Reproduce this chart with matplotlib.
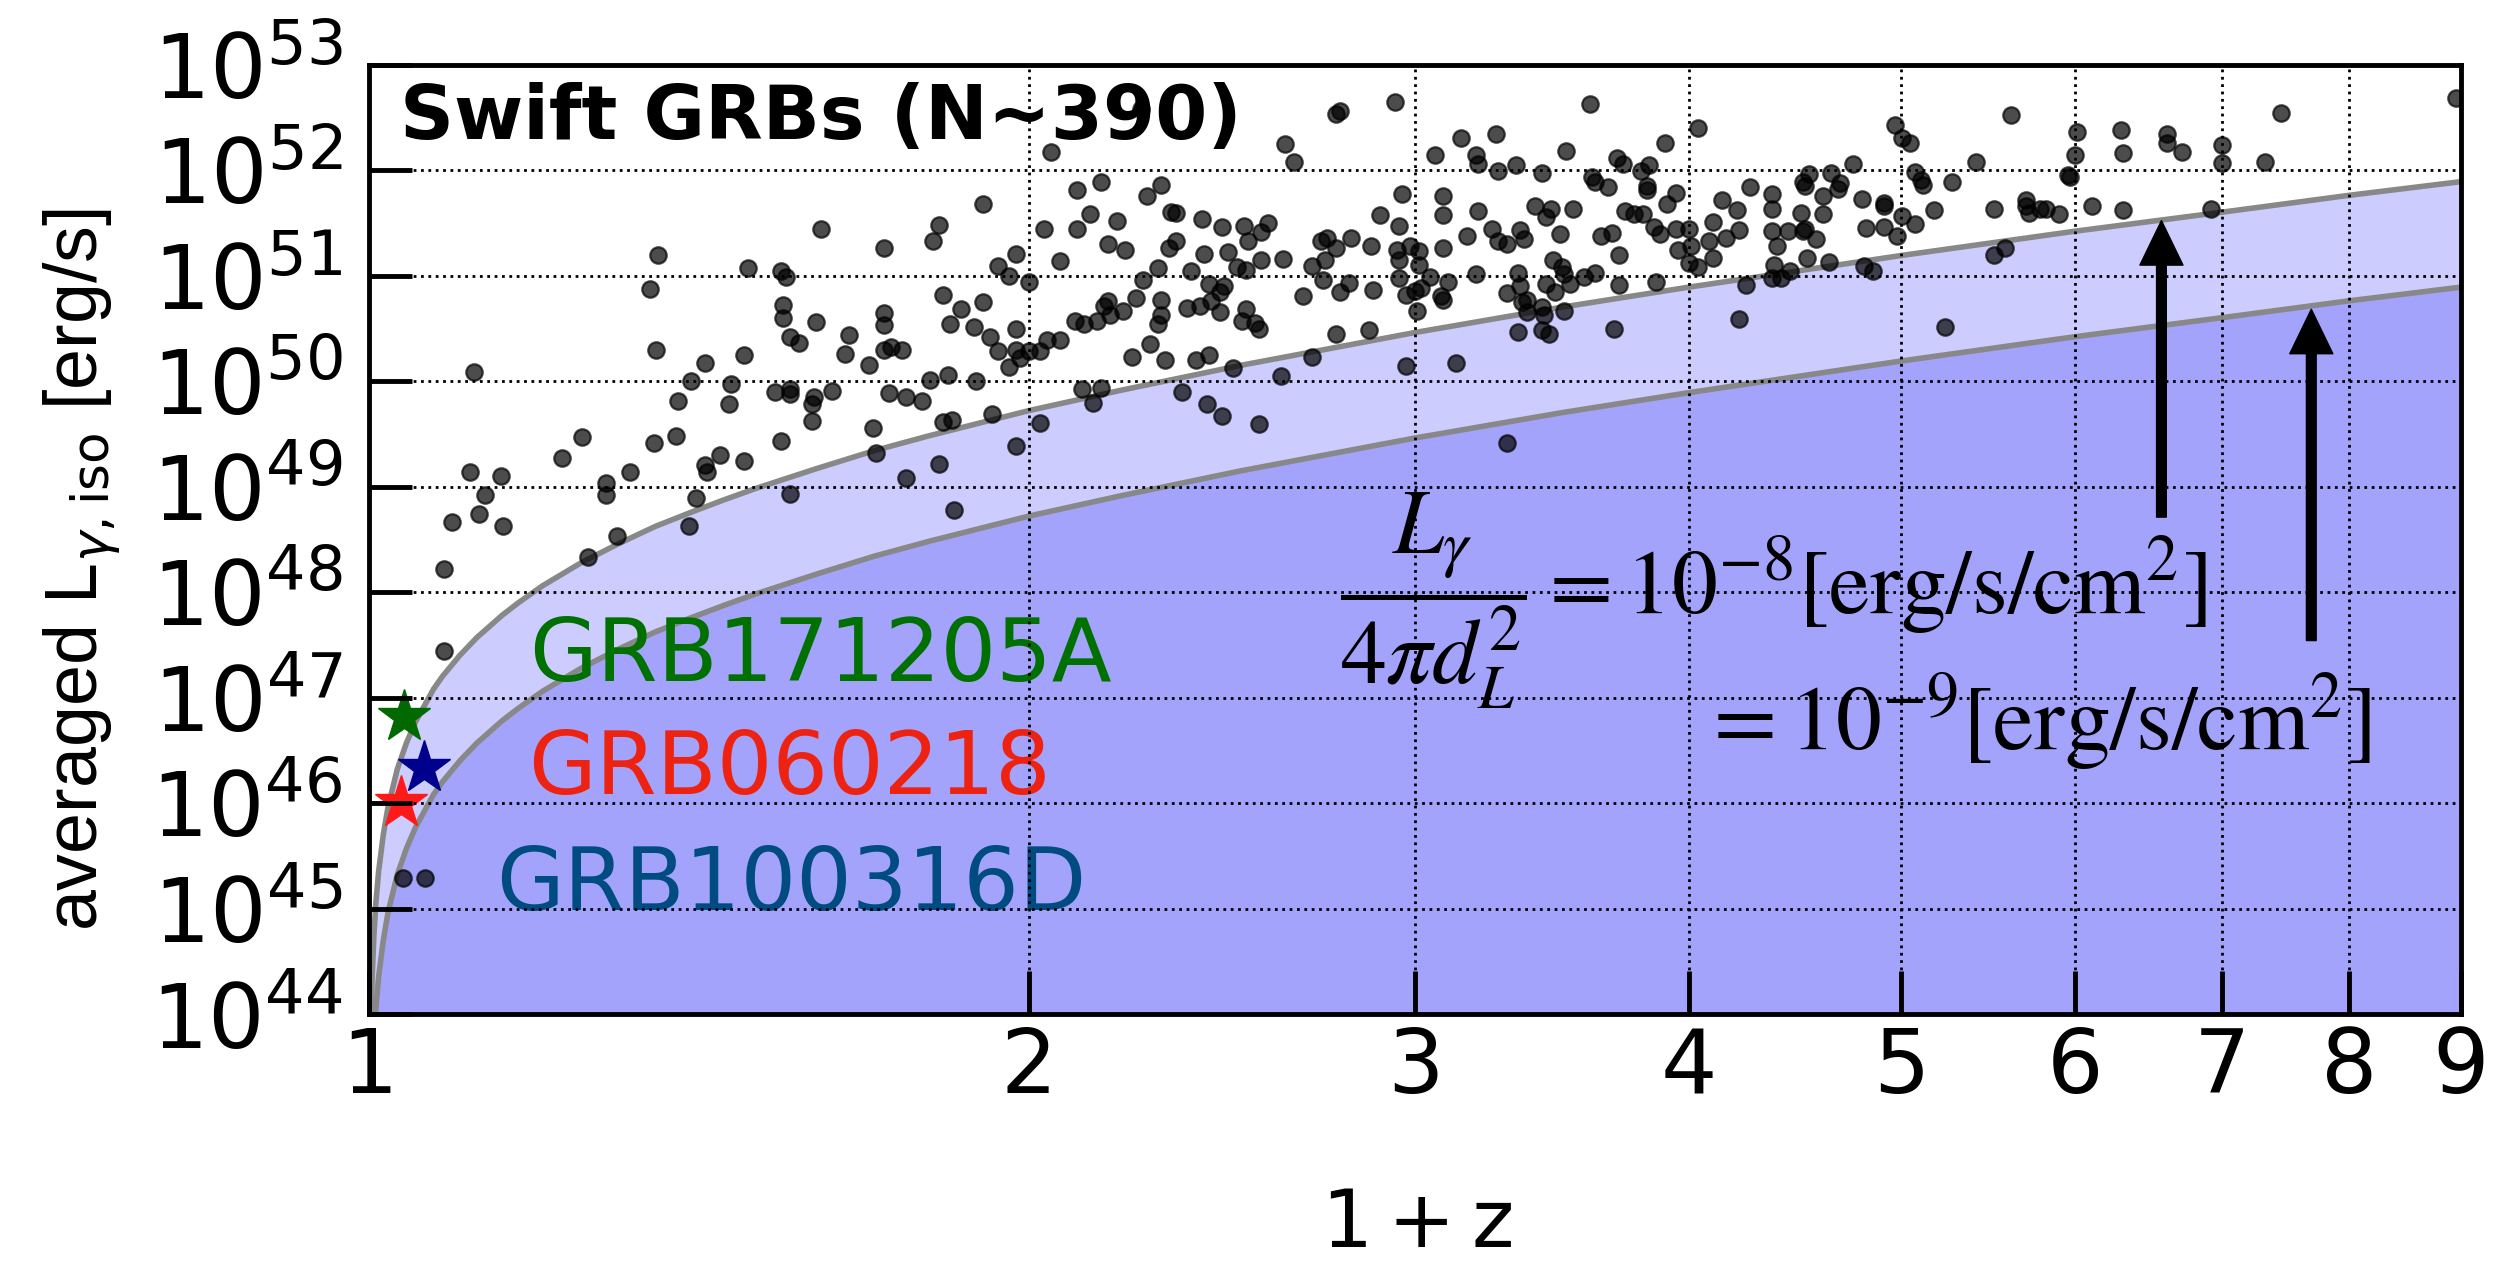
import numpy as np
import matplotlib.pyplot as plt
from matplotlib.ticker import FixedLocator, NullLocator, LogLocator

# Swift GRBs: (log10(1+z), log10 L[erg/s])
grb_low_z = [
    (0.311, 52.17), (0.280, 51.68), (0.206, 51.44), (0.260, 51.48), (0.257, 51.33),
    (0.235, 51.26), (0.308, 51.44), (0.132, 51.19), (0.295, 51.20), (0.315, 51.14),
    (0.287, 51.09), (0.173, 51.07), (0.188, 51.04), (0.190, 50.99), (0.292, 51.00),
    (0.301, 50.94), (0.128, 50.87), (0.262, 50.82), (0.189, 50.72), (0.280, 50.75),
    (0.270, 50.68), (0.189, 50.60), (0.235, 50.64), (0.204, 50.56), (0.235, 50.53),
    (0.265, 50.54), (0.276, 50.51), (0.295, 50.49), (0.192, 50.42), (0.219, 50.44),
    (0.196, 50.36), (0.283, 50.42), (0.309, 50.39), (0.315, 50.39), (0.131, 50.29),
    (0.171, 50.25), (0.235, 50.29), (0.238, 50.32), (0.243, 50.29), (0.217, 50.26),
    (0.287, 50.28), (0.295, 50.29), (0.301, 50.28), (0.306, 50.28), (0.297, 50.22),
    (0.153, 50.17), (0.228, 50.15), (0.292, 50.13), (0.048, 50.09), (0.147, 50.00),
    (0.165, 49.97), (0.264, 50.06), (0.256, 50.01), (0.277, 50.00),
    (0.185, 49.90), (0.192, 49.88), (0.192, 49.92), (0.203, 49.85), (0.211, 49.91),
    (0.202, 49.78), (0.202, 49.62), (0.237, 49.89), (0.245, 49.85), (0.252, 49.81),
    (0.141, 49.81), (0.164, 49.78), (0.097, 49.47), (0.130, 49.41), (0.140, 49.48),
    (0.188, 49.43), (0.230, 49.55), (0.262, 49.61), (0.266, 49.63), (0.284, 49.69),
    (0.306, 49.60), (0.295, 49.38), (0.231, 49.32), (0.260, 49.21), (0.245, 49.08),
    (0.088, 49.27), (0.046, 49.14), (0.060, 49.10), (0.119, 49.14), (0.153, 49.20),
    (0.154, 49.14), (0.160, 49.30), (0.171, 49.24), (0.108, 49.03), (0.108, 48.92),
    (0.053, 48.92), (0.149, 48.89), (0.192, 48.93), (0.267, 48.78), (0.038, 48.66),
    (0.050, 48.74), (0.061, 48.63), (0.146, 48.63), (0.113, 48.53), (0.034, 48.22),
    (0.100, 48.33), (0.034, 47.44), (0.0155, 45.29), (0.0255, 45.29),
]

grb_mid_z = [
    (0.352, 52.58), (0.441, 52.53), (0.443, 52.56), (0.468, 52.64), (0.557, 52.63),
    (0.606, 52.40), (0.418, 52.25), (0.422, 52.08), (0.486, 52.14), (0.498, 52.30),
    (0.514, 52.34), (0.505, 52.14), (0.506, 52.06), (0.546, 52.18), (0.591, 52.26),
    (0.515, 51.99), (0.523, 52.05), (0.535, 51.97), (0.569, 52.11), (0.572, 52.06),
    (0.558, 51.93), (0.559, 51.89), (0.565, 51.84), (0.580, 51.99), (0.584, 52.05),
    (0.583, 51.85), (0.583, 51.81), (0.596, 51.78), (0.592, 51.68), (0.630, 51.84),
    (0.617, 51.72), (0.624, 51.62), (0.323, 51.81), (0.334, 51.89), (0.355, 51.75),
    (0.361, 51.86), (0.471, 51.77), (0.490, 51.75), (0.490, 51.57), (0.506, 51.61),
    (0.532, 51.66), (0.539, 51.63), (0.537, 51.55), (0.549, 51.63), (0.573, 51.61),
    (0.577, 51.58), (0.581, 51.58), (0.329, 51.58), (0.341, 51.52), (0.323, 51.44),
    (0.366, 51.60), (0.368, 51.59), (0.380, 51.54), (0.389, 51.46), (0.399, 51.47),
    (0.410, 51.50), (0.407, 51.41), (0.401, 51.33), (0.461, 51.57), (0.470, 51.47),
    (0.337, 51.30), (0.345, 51.24), (0.365, 51.26), (0.368, 51.33), (0.381, 51.20),
    (0.392, 51.22), (0.434, 51.33), (0.437, 51.36), (0.448, 51.36), (0.457, 51.28),
    (0.441, 51.26), (0.436, 51.15), (0.430, 51.09), (0.417, 51.16), (0.407, 51.15),
    (0.396, 51.08), (0.400, 51.05), (0.469, 51.24), (0.475, 51.28), (0.479, 51.23),
    (0.490, 51.26), (0.501, 51.37), (0.512, 51.44), (0.515, 51.33), (0.519, 51.30),
    (0.525, 51.43), (0.527, 51.35), (0.543, 51.39), (0.562, 51.37), (0.567, 51.40),
    (0.570, 51.19), (0.586, 51.46), (0.589, 51.39), (0.596, 51.44), (0.602, 51.44),
    (0.597, 51.24), (0.603, 51.28), (0.602, 51.12), (0.606, 51.08), (0.613, 51.51),
    (0.611, 51.33), (0.619, 51.36), (0.625, 51.43), (0.613, 51.17), (0.540, 51.15),
    (0.544, 51.08), (0.554, 50.99), (0.559, 51.02), (0.570, 50.91), (0.587, 50.94),
    (0.628, 50.91), (0.625, 50.59), (0.568, 50.49), (0.524, 51.02), (0.525, 50.90),
    (0.519, 50.83), (0.537, 50.92), (0.541, 50.84), (0.545, 51.01), (0.548, 50.92),
    (0.526, 50.75), (0.528, 50.77), (0.535, 50.70), (0.528, 50.65), (0.536, 50.63),
    (0.545, 50.66), (0.524, 50.46), (0.535, 50.48), (0.538, 50.45), (0.505, 51.01),
    (0.492, 50.94), (0.484, 50.99), (0.480, 50.88), (0.477, 50.85), (0.473, 50.82),
    (0.470, 50.98), (0.478, 50.66), (0.489, 50.81), (0.490, 50.77), (0.479, 51.10),
    (0.470, 51.15), (0.458, 50.86), (0.443, 50.84), (0.447, 50.93), (0.435, 50.96),
    (0.426, 50.81), (0.441, 50.45), (0.456, 50.48), (0.430, 50.23), (0.473, 50.14),
    (0.496, 50.17), (0.416, 50.05), (0.394, 50.12), (0.383, 50.25), (0.377, 50.20),
    (0.363, 50.20), (0.348, 50.23), (0.356, 50.35), (0.360, 50.54), (0.361, 50.63),
    (0.361, 50.77), (0.350, 50.79), (0.344, 50.66), (0.338, 50.63), (0.337, 50.76),
    (0.335, 50.71), (0.322, 50.57), (0.326, 50.54), (0.332, 50.57), (0.373, 50.69),
    (0.379, 50.71), (0.384, 50.76), (0.388, 50.65), (0.390, 50.90), (0.388, 50.84),
    (0.383, 50.92), (0.375, 51.04), (0.360, 51.07), (0.353, 50.96), (0.400, 50.68),
    (0.398, 50.57), (0.404, 50.55), (0.406, 50.49), (0.371, 49.90), (0.325, 49.92),
    (0.334, 49.93), (0.330, 49.79), (0.382, 49.78), (0.389, 49.67), (0.406, 49.59),
    (0.519, 49.41),
]

grb_high_z = [
    (0.952, 52.68), (0.749, 52.52), (0.872, 52.54), (0.696, 52.43), (0.699, 52.30),
    (0.703, 52.26), (0.779, 52.36), (0.799, 52.38), (0.820, 52.34), (0.820, 52.26),
    (0.827, 52.17), (0.845, 52.24), (0.845, 52.07), (0.778, 52.14), (0.800, 52.16),
    (0.865, 52.08), (0.733, 52.08), (0.677, 52.06), (0.705, 51.98), (0.708, 51.91),
    (0.709, 51.86), (0.722, 51.89), (0.775, 51.95), (0.776, 51.93), (0.667, 51.97),
    (0.657, 51.96), (0.654, 51.89), (0.655, 51.85), (0.671, 51.88), (0.670, 51.82),
    (0.640, 51.77), (0.663, 51.75), (0.681, 51.73), (0.691, 51.69), (0.691, 51.66),
    (0.640, 51.63), (0.653, 51.59), (0.663, 51.58), (0.699, 51.56), (0.705, 51.49),
    (0.714, 51.62), (0.741, 51.63), (0.756, 51.72), (0.756, 51.66), (0.757, 51.59),
    (0.762, 51.63), (0.765, 51.63), (0.771, 51.58), (0.786, 51.66), (0.800, 51.62),
    (0.840, 51.63), (0.640, 51.42), (0.647, 51.42), (0.654, 51.42), (0.655, 51.44),
    (0.660, 51.35), (0.683, 51.45), (0.691, 51.46), (0.697, 51.37), (0.642, 51.28),
    (0.656, 51.17), (0.666, 51.13), (0.641, 51.10), (0.648, 51.04), (0.640, 50.98),
    (0.644, 50.98), (0.682, 51.09), (0.686, 51.04), (0.746, 51.26), (0.741, 51.19),
    (0.719, 50.51),
]

# nearby low-luminosity bursts
special_names = ['GRB171205A', 'GRB060218', 'GRB100316D']
special_opz = [1.037, 1.034, 1.059]
special_logl = [46.82, 46.00, 46.33]
star_colors = ['#006a00', '#ff1a1a', '#00008c']
label_colors = ['#007000', '#ee2211', '#004c80']

# detection limits L = 4 pi d_L^2 F
curve_opz = [1.002, 1.003, 1.005, 1.007, 1.01, 1.015, 1.02, 1.03, 1.04, 1.05, 1.07,
             1.08, 1.1, 1.12, 1.15, 1.17, 1.2, 1.25, 1.3, 1.35, 1.4, 1.45, 1.5, 1.6,
             1.7, 1.8, 2.0, 2.2, 2.5, 3.0, 3.5, 4.0, 5.0, 6.0, 7.0, 8.0, 9.0]
curve_logl_1e8 = [43.95, 44.30, 44.74, 45.04, 45.35, 45.70, 45.96, 46.32, 46.57, 46.77,
                  47.08, 47.20, 47.40, 47.57, 47.78, 47.90, 48.06, 48.28, 48.46, 48.62,
                  48.75, 48.87, 48.98, 49.17, 49.34, 49.48, 49.72, 49.91, 50.15, 50.46,
                  50.70, 50.89, 51.19, 51.42, 51.60, 51.76, 51.89]
curve_logl_1e9 = [42.95, 43.30, 43.74, 44.04, 44.35, 44.70, 44.96, 45.32, 45.57, 45.77,
                  46.08, 46.20, 46.40, 46.57, 46.78, 46.90, 47.06, 47.28, 47.46, 47.62,
                  47.75, 47.87, 47.98, 48.17, 48.34, 48.48, 48.72, 48.91, 49.15, 49.46,
                  49.70, 49.89, 50.19, 50.42, 50.60, 50.76, 50.89]

arrow_opz = [6.57, 7.69]
arrow_tip_logl = [51.52, 50.68]
arrow_tail_logl = [48.71, 47.54]

xticks = [1, 2, 3, 4, 5, 6, 7, 8, 9]

fig = plt.figure(figsize=(24.94, 12.65), dpi=100)
ax = fig.add_axes([0.148, 0.1984, 0.8388, 0.7506])
ax.set_xscale('log')
ax.set_yscale('log')

cx = np.array(curve_opz)
up = 10 ** np.array(curve_logl_1e8)
lo = 10 ** np.array(curve_logl_1e9)
ax.fill_between(cx, 1e40, lo, color='#a3a3fc', lw=0, zorder=0.5)
ax.fill_between(cx, lo, up, color='#ccccff', lw=0, zorder=0.5)
ax.plot(cx, up, color='#888888', lw=4, zorder=1.5, solid_joinstyle='round')
ax.plot(cx, lo, color='#888888', lw=4, zorder=1.5, solid_joinstyle='round')

pts = np.array(grb_low_z + grb_mid_z + grb_high_z)
ax.scatter(10 ** pts[:, 0], 10 ** pts[:, 1], s=140, c='k', alpha=0.7,
           linewidths=1.6, zorder=1.8)

for zz, ll, c in zip(special_opz, special_logl, star_colors):
    ax.plot(zz, 10 ** ll, marker='*', ms=40, color=c, mec=c, ls='none', zorder=2.2)

for zz, tip, tail in zip(arrow_opz, arrow_tip_logl, arrow_tail_logl):
    ax.annotate('', xy=(zz, 10 ** tip), xytext=(zz, 10 ** tail),
                arrowprops=dict(facecolor='k', edgecolor='k', width=7,
                                headwidth=31, headlength=32, shrink=0),
                zorder=2.2)

ax.set_xlim(1, 9)
ax.set_ylim(1e44, 1e53)

ax.text(0.0148, 0.922, 'Swift GRBs (N~390)', transform=ax.transAxes,
        fontsize=54, fontweight='bold', ha='left', va='baseline', zorder=2.2)
label_pos = [(0.0765, 0.351), (0.076, 0.232), (0.0607, 0.110)]
for name, c, (px, py) in zip(special_names, label_colors, label_pos):
    ax.text(px, py, name, color=c, transform=ax.transAxes, fontsize=63,
            ha='left', va='baseline', zorder=2.2)

ax.text(0.464, 0.421, r'$\dfrac{L_\gamma}{4\pi d_L^2}=10^{-8}[\mathrm{erg/s/cm^2}]$',
        transform=ax.transAxes, fontsize=66, math_fontfamily='stix',
        ha='left', va='baseline', zorder=2.2)
ax.text(0.636, 0.278, r'$=10^{-9}[\mathrm{erg/s/cm^2}]$',
        transform=ax.transAxes, fontsize=66, math_fontfamily='stix',
        ha='left', va='baseline', zorder=2.2)

ax.xaxis.set_major_locator(FixedLocator(xticks))
ax.xaxis.set_minor_locator(NullLocator())
ax.set_xticklabels([str(t) for t in xticks])
ax.yaxis.set_major_locator(LogLocator(base=10, numticks=20))
ax.yaxis.set_minor_locator(NullLocator())

ax.set_axisbelow(False)
ax.grid(True, which='major', color='k', linestyle=':', linewidth=2)
ax.tick_params(which='major', direction='in', length=31, width=3.5,
               top=False, right=False)
ax.tick_params(axis='y', labelsize=64, pad=19)
ax.tick_params(axis='x', labelsize=64, pad=8)
for sp in ax.spines.values():
    sp.set_linewidth(3.5)

fig.text(82 / 2494, 1 - 570 / 1265, r'averaged L$_{\gamma,\mathrm{iso}}$ [erg/s]',
         rotation=90, ha='center', va='center', fontsize=53,
         family=['Liberation Sans Narrow', 'Liberation Sans'])
fig.text(1416 / 2494, 1 - 1225 / 1265, r'$\mathrm{1+z}$', ha='center', va='center',
         fontsize=58)

fig.savefig('out.png', dpi=100)
